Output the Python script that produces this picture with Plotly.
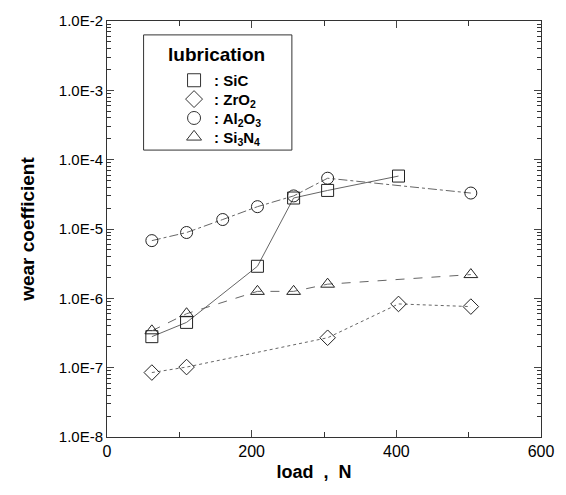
import plotly.graph_objects as go

# data
sic_x = [62, 110, 208, 258, 305, 403]
sic_y = [2.8e-7, 4.5e-7, 2.9e-6, 2.8e-5, 3.6e-5, 5.8e-5]

zro2_x = [62, 110, 305, 403, 503]
zro2_y = [8.5e-8, 1.02e-7, 2.7e-7, 8.3e-7, 7.6e-7]

al2o3_x = [62, 110, 160, 208, 258, 305, 503]
al2o3_y = [6.8e-6, 8.9e-6, 1.37e-5, 2.1e-5, 3.0e-5, 5.4e-5, 3.3e-5]

si3n4_x = [62, 110, 208, 258, 305, 503]
si3n4_y = [3.4e-7, 6.0e-7, 1.26e-6, 1.26e-6, 1.6e-6, 2.2e-6]

y_ticks = [1e-8, 1e-7, 1e-6, 1e-5, 1e-4, 1e-3, 1e-2]
y_ticktext = ["1.0E-8", "1.0E-7", "1.0E-6", "1.0E-5", "1.0E-4", "1.0E-3", "1.0E-2"]
x_ticks = [0, 200, 400, 600]

series = [
    ("<b>: SiC</b>", sic_x, sic_y, "square-open", "solid"),
    ("<b>: ZrO<sub>2</sub></b>", zro2_x, zro2_y, "diamond-open", "dot"),
    ("<b>: Al<sub>2</sub>O<sub>3</sub></b>", al2o3_x, al2o3_y, "circle-open", "dashdot"),
    ("<b>: Si<sub>3</sub>N<sub>4</sub></b>", si3n4_x, si3n4_y, "triangle-up-open", "dash"),
]

# legend entry rows (paper y) inside the legend box
legend_rows = [0.857, 0.8117, 0.7663, 0.721]
legend_names = ["legend", "legend2", "legend3", "legend4"]

fig = go.Figure()
for name, xs, ys, sym, dash in series:
    fig.add_trace(go.Scatter(
        x=xs, y=ys, mode="lines+markers", showlegend=False,
        line=dict(color="#666666", width=1, dash=dash),
        marker=dict(symbol=sym, size=12, color="#222222", line=dict(width=1)),
    ))
for (name, xs, ys, sym, dash), lg in zip(series, legend_names):
    fig.add_trace(go.Scatter(
        x=[None], y=[None], mode="markers", name=name, legend=lg,
        marker=dict(symbol=sym, size=13, color="#333333", line=dict(width=1)),
    ))

minor_vals = [m * 10 ** e for e in range(-8, -2) for m in range(2, 10)]

legend_layout = {}
for lg, ry in zip(legend_names, legend_rows):
    legend_layout[lg] = dict(
        x=0.1545, y=ry, xanchor="left", yanchor="middle",
        borderwidth=0, bgcolor="rgba(0,0,0,0)",
        font=dict(size=15, family="Liberation Sans, Arial"),
        itemwidth=30,
    )

fig.update_layout(
    width=566, height=495,
    margin=dict(l=107, r=20, t=18, b=58),
    paper_bgcolor="white", plot_bgcolor="white",
    font=dict(family="Liberation Sans, Arial", size=15, color="black"),
    shapes=[dict(type="rect", xref="paper", yref="paper",
                 x0=0.0843, x1=0.426, y0=0.6897, y1=0.9666,
                 line=dict(color="#333333", width=1))],
    annotations=[dict(text="<b>lubrication</b>", xref="paper", yref="paper",
                      x=0.252, y=0.9188, xanchor="center", yanchor="middle",
                      showarrow=False, font=dict(size=19))],
    xaxis=dict(
        range=[0, 600], tickvals=x_ticks, ticks="inside", ticklen=7,
        showline=True, linecolor="#333333", linewidth=1, mirror="ticks",
        showgrid=False, zeroline=False,
        minor=dict(ticks="inside", ticklen=5, dtick=100, tickcolor="#333333"),
        title=dict(text="<b>load  ,  N</b>&nbsp;&nbsp;&nbsp;&nbsp;", font=dict(size=18), standoff=6),
        tickfont=dict(size=16),
    ),
    yaxis=dict(
        type="log", range=[-8, -2], tickvals=y_ticks, ticktext=y_ticktext,
        ticks="inside", ticklen=7,
        showline=True, linecolor="#333333", linewidth=1, mirror="ticks",
        showgrid=False, zeroline=False,
        minor=dict(ticks="inside", ticklen=4, tickvals=minor_vals, tickcolor="#333333"),
        title=dict(text="<b>wear coefficient</b>", font=dict(size=19), standoff=19),
        tickfont=dict(size=15),
    ),
    **legend_layout,
)

fig.write_html("out.html")
